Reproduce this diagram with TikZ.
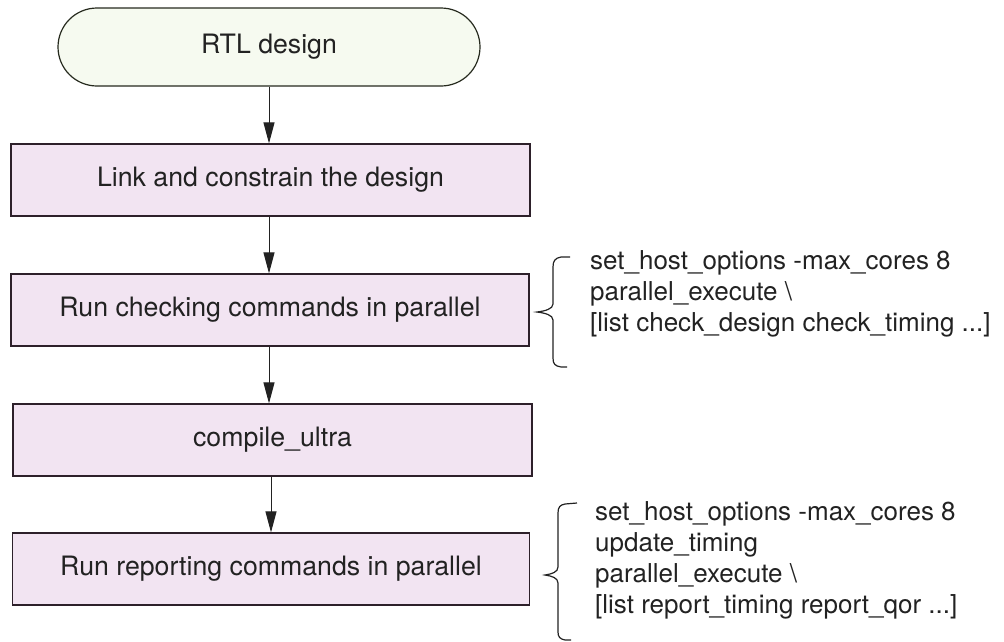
\documentclass[tikz,border=0pt]{standalone}
\usepackage{fontspec}
\setmainfont{TeX Gyre Heros}
\usetikzlibrary{arrows.meta}
\definecolor{boxfill}{RGB}{242,228,242}
\definecolor{termfill}{RGB}{246,250,240}
\definecolor{termline}{RGB}{38,42,30}
\definecolor{boxline}{RGB}{45,32,42}
\definecolor{inkline}{RGB}{34,34,34}
\begin{document}
\begin{tikzpicture}[x=1pt,y=-1pt,
  every node/.style={font=\fontsize{26}{31}\selectfont, text=inkline},
  boxfont/.style={font=\fontsize{26.7}{32}\selectfont},
  term/.style={boxfont, draw=termline, fill=termfill, line width=1.2pt, rounded corners=39pt, minimum width=422pt, minimum height=78pt, inner sep=0pt},
  stepbox/.style={boxfont, draw=boxline, fill=boxfill, line width=1.2pt, minimum height=72pt, inner sep=0pt},
  flow/.style={draw=inkline, line width=1pt, -{Triangle[length=21pt,width=11pt]}},
  bracestyle/.style={draw=inkline, line width=1.2pt},
  code/.style={anchor=north west, align=left, inner sep=0pt}
]
\useasboundingbox (0,0) rectangle (1004,641);

\node[term] (t) at (269,47) {RTL design};
\node[stepbox, minimum width=519pt] (b1) at (270.5,180) {Link and constrain the design};
\node[stepbox, minimum width=518pt] (b2) at (270,310) {Run checking commands in parallel};
\node[stepbox, minimum width=519pt] (b3) at (272.5,440) {compile\_ultra};
\node[stepbox, minimum width=517pt] (b4) at (271,569) {Run reporting commands in parallel};

\draw[flow] (t.south) -- (t.south |- b1.north);
\draw[flow] (b1.south -| t.south) -- (t.south |- b2.north);
\draw[flow] (b2.south -| t.south) -- (t.south |- b3.north);
\draw[flow] (b3.south -| b4.north) -- (b4.north);

% braces
\draw[bracestyle] (570,257) -- (561,257) .. controls (555,258) and (553,261) .. (553,267)
  -- (553,304) .. controls (553,309) and (545,311) .. (537,312)
  .. controls (545,313) and (553,315) .. (553,320)
  -- (553,358) .. controls (553,364) and (555,366) .. (561,367) -- (567,367);
\draw[bracestyle] (577,503) -- (565,504) .. controls (560,505) and (558,507) .. (558,513)
  -- (558,567) .. controls (558,572) and (552,574) .. (545,575)
  .. controls (552,576) and (558,578) .. (558,583)
  -- (558,632) .. controls (558,637) and (560,639) .. (565,640) -- (571,640);

\node[code] (c1) at (590,250) {set\_host\_options -max\_cores 8\\parallel\_execute \textbackslash\\{}[list check\_design check\_timing ...]};
\node[code] (c2) at (595,501) {set\_host\_options -max\_cores 8\\update\_timing\\parallel\_execute \textbackslash\\{}[list report\_timing report\_qor ...]};
\end{tikzpicture}
\end{document}
